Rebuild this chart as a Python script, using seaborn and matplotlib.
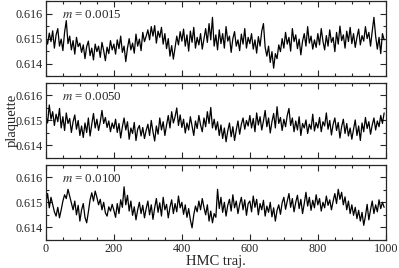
import numpy as np
import pandas as pd
import matplotlib
matplotlib.use("Agg")
import matplotlib.pyplot as plt
from matplotlib.ticker import MultipleLocator
import seaborn as sns

# HMC trajectory index (every 5th trajectory)
traj = list(range(0, 1000, 5))

# plaquette history, m = 0.0015
plaq_0015 = [
    0.61505, 0.61478, 0.61522, 0.61488, 0.61531, 0.61462, 0.61515, 0.61540, 0.61470, 0.61498,
    0.61452, 0.61525, 0.61572, 0.61480, 0.61510, 0.61455, 0.61492, 0.61438, 0.61505, 0.61468,
    0.61482, 0.61445, 0.61475, 0.61420, 0.61468, 0.61490, 0.61432, 0.61462, 0.61415, 0.61478,
    0.61448, 0.61470, 0.61425, 0.61485, 0.61452, 0.61412, 0.61466, 0.61440, 0.61492, 0.61455,
    0.61478, 0.61438, 0.61495, 0.61460, 0.61510, 0.61445, 0.61470, 0.61408, 0.61462, 0.61500,
    0.61455, 0.61482, 0.61442, 0.61518, 0.61470, 0.61498, 0.61452, 0.61525, 0.61488, 0.61510,
    0.61535, 0.61495, 0.61548, 0.61510, 0.61552, 0.61482, 0.61530, 0.61505, 0.61545, 0.61478,
    0.61520, 0.61460, 0.61500, 0.61430, 0.61472, 0.61418, 0.61465, 0.61510, 0.61475, 0.61528,
    0.61490, 0.61538, 0.61470, 0.61515, 0.61450, 0.61530, 0.61485, 0.61545, 0.61462, 0.61505,
    0.61475, 0.61520, 0.61458, 0.61498, 0.61540, 0.61485, 0.61560, 0.61495, 0.61585, 0.61470,
    0.61515, 0.61455, 0.61535, 0.61480, 0.61520, 0.61462, 0.61548, 0.61490, 0.61510, 0.61445,
    0.61500, 0.61528, 0.61470, 0.61495, 0.61452, 0.61518, 0.61478, 0.61540, 0.61462, 0.61505,
    0.61480, 0.61520, 0.61458, 0.61495, 0.61442, 0.61508, 0.61470, 0.61530, 0.61560, 0.61465,
    0.61430, 0.61470, 0.61405, 0.61448, 0.61382, 0.61440, 0.61420, 0.61475, 0.61448, 0.61500,
    0.61462, 0.61525, 0.61478, 0.61505, 0.61450, 0.61540, 0.61488, 0.61515, 0.61460, 0.61498,
    0.61435, 0.61490, 0.61520, 0.61470, 0.61548, 0.61482, 0.61510, 0.61458, 0.61495, 0.61465,
    0.61520, 0.61475, 0.61540, 0.61490, 0.61455, 0.61512, 0.61470, 0.61535, 0.61485, 0.61505,
    0.61448, 0.61525, 0.61478, 0.61550, 0.61492, 0.61515, 0.61462, 0.61530, 0.61488, 0.61545,
    0.61480, 0.61520, 0.61465, 0.61505, 0.61538, 0.61475, 0.61512, 0.61490, 0.61548, 0.61500,
    0.61525, 0.61470, 0.61530, 0.61585, 0.61510, 0.61458, 0.61505, 0.61440, 0.61520, 0.61495,
]

# plaquette history, m = 0.0050
plaq_0050 = [
    0.61520, 0.61490, 0.61562, 0.61505, 0.61535, 0.61480, 0.61525, 0.61495, 0.61548, 0.61470,
    0.61515, 0.61460, 0.61530, 0.61488, 0.61508, 0.61452, 0.61495, 0.61522, 0.61465, 0.61500,
    0.61440, 0.61478, 0.61432, 0.61490, 0.61452, 0.61510, 0.61438, 0.61485, 0.61528, 0.61470,
    0.61505, 0.61460, 0.61495, 0.61540, 0.61488, 0.61512, 0.61472, 0.61498, 0.61455, 0.61490,
    0.61468, 0.61505, 0.61452, 0.61488, 0.61430, 0.61475, 0.61510, 0.61462, 0.61495, 0.61425,
    0.61470, 0.61448, 0.61492, 0.61420, 0.61465, 0.61480, 0.61438, 0.61472, 0.61428, 0.61460,
    0.61485, 0.61440, 0.61500, 0.61455, 0.61418, 0.61478, 0.61445, 0.61510, 0.61462, 0.61495,
    0.61440, 0.61482, 0.61520, 0.61470, 0.61535, 0.61490, 0.61515, 0.61550, 0.61480, 0.61522,
    0.61472, 0.61505, 0.61450, 0.61490, 0.61462, 0.61515, 0.61478, 0.61440, 0.61498, 0.61468,
    0.61520, 0.61482, 0.61455, 0.61510, 0.61475, 0.61535, 0.61488, 0.61552, 0.61470, 0.61505,
    0.61462, 0.61495, 0.61440, 0.61482, 0.61428, 0.61470, 0.61415, 0.61458, 0.61490, 0.61435,
    0.61475, 0.61420, 0.61462, 0.61498, 0.61445, 0.61485, 0.61510, 0.61465, 0.61500, 0.61478,
    0.61520, 0.61470, 0.61508, 0.61455, 0.61530, 0.61482, 0.61515, 0.61462, 0.61498, 0.61540,
    0.61475, 0.61510, 0.61450, 0.61495, 0.61528, 0.61470, 0.61555, 0.61488, 0.61512, 0.61460,
    0.61505, 0.61475, 0.61520, 0.61548, 0.61480, 0.61510, 0.61455, 0.61498, 0.61462, 0.61515,
    0.61440, 0.61488, 0.61470, 0.61502, 0.61448, 0.61485, 0.61465, 0.61525, 0.61458, 0.61492,
    0.61470, 0.61512, 0.61455, 0.61495, 0.61478, 0.61530, 0.61465, 0.61500, 0.61442, 0.61485,
    0.61510, 0.61460, 0.61492, 0.61430, 0.61475, 0.61505, 0.61448, 0.61488, 0.61438, 0.61470,
    0.61425, 0.61465, 0.61502, 0.61440, 0.61478, 0.61420, 0.61490, 0.61455, 0.61512, 0.61468,
    0.61495, 0.61445, 0.61482, 0.61510, 0.61462, 0.61498, 0.61475, 0.61520, 0.61488, 0.61530,
]

# plaquette history, m = 0.0100
plaq_0100 = [
    0.61500, 0.61535, 0.61478, 0.61520, 0.61490, 0.61462, 0.61445, 0.61480, 0.61438, 0.61470,
    0.61505, 0.61530, 0.61515, 0.61552, 0.61525, 0.61498, 0.61470, 0.61505, 0.61450, 0.61488,
    0.61425, 0.61470, 0.61495, 0.61440, 0.61418, 0.61462, 0.61510, 0.61538, 0.61505, 0.61545,
    0.61520, 0.61490, 0.61512, 0.61470, 0.61500, 0.61458, 0.61445, 0.61482, 0.61465, 0.61492,
    0.61468, 0.61440, 0.61495, 0.61455, 0.61510, 0.61480, 0.61562, 0.61490, 0.61528, 0.61465,
    0.61505, 0.61448, 0.61482, 0.61430, 0.61470, 0.61500, 0.61455, 0.61488, 0.61438, 0.61475,
    0.61505, 0.61450, 0.61490, 0.61432, 0.61478, 0.61515, 0.61460, 0.61498, 0.61445, 0.61520,
    0.61470, 0.61492, 0.61438, 0.61480, 0.61510, 0.61455, 0.61495, 0.61462, 0.61525, 0.61478,
    0.61500, 0.61452, 0.61490, 0.61440, 0.61475, 0.61430, 0.61398, 0.61450, 0.61485, 0.61462,
    0.61505, 0.61470, 0.61515, 0.61480, 0.61450, 0.61490, 0.61425, 0.61465, 0.61418, 0.61455,
    0.61440, 0.61552, 0.61475, 0.61520, 0.61460, 0.61500, 0.61445, 0.61488, 0.61512, 0.61465,
    0.61530, 0.61478, 0.61505, 0.61455, 0.61492, 0.61520, 0.61470, 0.61510, 0.61448, 0.61495,
    0.61505, 0.61462, 0.61525, 0.61480, 0.61512, 0.61450, 0.61495, 0.61470, 0.61508, 0.61445,
    0.61485, 0.61460, 0.61500, 0.61442, 0.61478, 0.61425, 0.61468, 0.61490, 0.61452, 0.61498,
    0.61520, 0.61472, 0.61505, 0.61535, 0.61480, 0.61515, 0.61462, 0.61500, 0.61528, 0.61475,
    0.61512, 0.61455, 0.61495, 0.61540, 0.61485, 0.61520, 0.61468, 0.61508, 0.61478, 0.61530,
    0.61490, 0.61515, 0.61465, 0.61500, 0.61478, 0.61525, 0.61488, 0.61510, 0.61470, 0.61505,
    0.61535, 0.61495, 0.61552, 0.61512, 0.61540, 0.61490, 0.61522, 0.61470, 0.61505, 0.61455,
    0.61490, 0.61448, 0.61480, 0.61435, 0.61468, 0.61425, 0.61460, 0.61408, 0.61445, 0.61492,
    0.61430, 0.61470, 0.61505, 0.61455, 0.61490, 0.61462, 0.61510, 0.61475, 0.61500, 0.61480,
]

masses = ["0.0015", "0.0050", "0.0100"]
series = [plaq_0015, plaq_0050, plaq_0100]

sns.set_style("ticks")
plt.rcParams['font.family'] = ['Liberation Serif', 'DejaVu Serif']
plt.rcParams['mathtext.fontset'] = 'stix'

fig, axes = plt.subplots(3, 1, figsize=(3.99, 2.68), dpi=100, sharex=True)
fig.subplots_adjust(left=0.115, right=0.967, top=0.996, bottom=0.105, hspace=0.09)

for ax, m, vals in zip(axes, masses, series):
    df = pd.DataFrame({'traj': traj, 'plaq': vals})
    sns.lineplot(data=df, x='traj', y='plaq', ax=ax, color='black', linewidth=0.9)
    ax.set_xlim(0, 1000)
    ax.set_ylim(0.6135, 0.6165)
    ax.set_xlabel('')
    ax.set_ylabel('')
    ax.xaxis.set_major_locator(MultipleLocator(200))
    ax.xaxis.set_minor_locator(MultipleLocator(50))
    ax.yaxis.set_major_locator(MultipleLocator(0.001))
    ax.yaxis.set_minor_locator(MultipleLocator(0.0005))
    ax.yaxis.set_major_formatter(plt.FormatStrFormatter('%.3f'))
    ax.tick_params(which='both', direction='in', top=True, right=True, labelsize=8.7,
                   width=0.8, pad=2)
    ax.tick_params(which='major', length=4.5)
    ax.tick_params(which='minor', length=2.5)
    for s in ax.spines.values():
        s.set_linewidth(0.9)
    ax.text(0.047, 0.81, r"$m$ = " + m, transform=ax.transAxes, fontsize=9.3, va='center')

axes[2].set_xlabel('HMC traj.', fontsize=10.5, labelpad=0)
fig.text(0.03, 0.55, 'plaquette', rotation=90, fontsize=10.5, ha='center', va='center')

plt.savefig('out.png', dpi=100)
